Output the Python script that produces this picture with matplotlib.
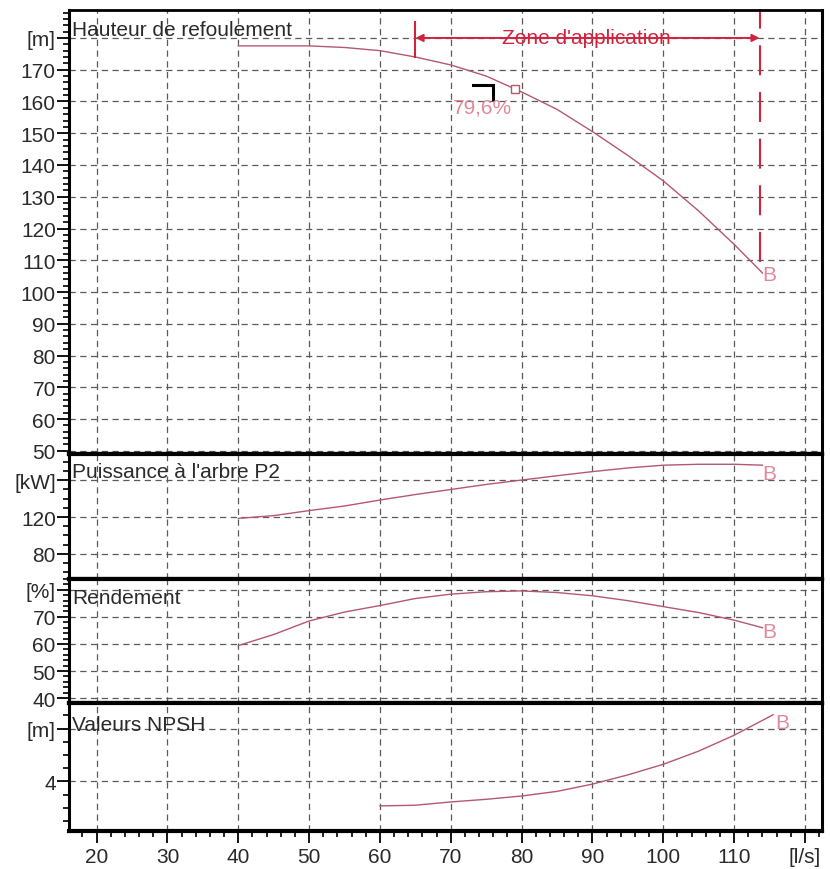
import matplotlib.pyplot as plt
from matplotlib.ticker import MultipleLocator, FixedLocator

plt.rcParams['font.family'] = ['Liberation Sans', 'DejaVu Sans']

# Débit (l/s) et courbes de la pompe
q_h = [40, 45, 50, 55, 60, 65, 70, 75, 80, 85, 90, 95, 100, 105, 110, 114]
hauteur = [177.5, 177.5, 177.5, 177, 176, 174, 171.5, 168, 163, 157.5, 150.5,
           143, 135, 125.5, 115, 106]

q_p = [40, 45, 50, 55, 60, 65, 70, 75, 80, 85, 90, 95, 100, 105, 110, 114]
puissance = [118.5, 121.5, 127, 132, 138.5, 144.5, 150, 155.5, 160.3, 165,
             169.5, 173.5, 176.5, 177.5, 177.5, 176.5]

q_r = [40, 45, 50, 55, 60, 65, 70, 75, 80, 85, 90, 95, 100, 105, 110, 114]
rendement = [59.4, 63.5, 68.5, 71.8, 74.2, 76.8, 78.4, 79.3, 79.6, 79.0,
             77.8, 76.0, 73.8, 71.6, 68.8, 66.0]

q_n = [60, 65, 70, 75, 80, 85, 90, 95, 100, 105, 110, 115.5]
npsh = [2.15, 2.2, 2.45, 2.65, 2.9, 3.25, 3.8, 4.5, 5.3, 6.3, 7.5, 9.05]

# point de meilleur rendement
bep_q = 79
bep_h = 164
bep_eta = 79.6
repere_q = [73.2, 76.0, 76.0]
repere_h = [165.2, 165.2, 160.8]

# zone d'application
zone_q = [65, 113.6]
zone_h = 180
zone_gauche_h = [184.9, 174]
zone_droite_h = [189, 106]

x_ticks = list(range(20, 121, 10))
x_labels = [str(v) for v in x_ticks[:-1]] + ['[l/s]']

courbe = '#b4586e'
rouge = '#d0243e'
rose = '#e0899a'
texte = '#2a2a2a'
FS = 15

fig = plt.figure(figsize=(8.3, 8.7), dpi=100)
W, H = 830.0, 870.0
left, right = 69, 822


def panneau(top, bottom):
    return fig.add_axes([left / W, (H - bottom) / H, (right - left) / W, (bottom - top) / H])


ax1 = panneau(11, 455)
ax2 = panneau(455, 580)
ax3 = panneau(580, 704)
ax4 = panneau(704, 832)
axes = [ax1, ax2, ax3, ax4]

reglages = [
    (ax1, (49, 188.8), list(range(50, 181, 10)), '[m]', 2),
    (ax2, (52.4, 188.7), [80, 120, 160], '[kW]', 10),
    (ax3, (38.2, 84), [40, 50, 60, 70, 80], '[%]', 2),
    (ax4, (0.25, 9.94), [4, 8], '[m]', 1),
]

for ax, ylim, yt, unite, mineur in reglages:
    ax.set_xlim(16.1, 122.4)
    ax.set_ylim(*ylim)
    ax.yaxis.set_major_locator(FixedLocator(yt))
    ax.set_yticklabels([str(v) for v in yt[:-1]] + [unite])
    ax.yaxis.set_minor_locator(MultipleLocator(mineur))
    ax.set_xticks(x_ticks)
    ax.grid(True, which='major', color='#5a5a5a', linestyle=(0, (5, 3.6)), linewidth=0.9)
    ax.tick_params(axis='y', which='major', direction='out', length=8.5, width=1.3,
                   labelsize=FS, labelcolor=texte, pad=1)
    ax.tick_params(axis='y', which='minor', direction='out', length=4.5, width=1.2)
    for s in ax.spines.values():
        s.set_linewidth(2.2)
    ax.spines['top'].set_linewidth(3)
    ax.spines['bottom'].set_linewidth(3)

for ax in axes[:-1]:
    ax.tick_params(axis='x', which='both', length=0, labelbottom=False)

ax4.set_xticklabels(x_labels)
ax4.xaxis.set_minor_locator(MultipleLocator(2))
ax4.tick_params(axis='x', which='major', direction='out', length=8.5, width=1.3,
                labelsize=FS, labelcolor=texte, pad=3)
ax4.tick_params(axis='x', which='minor', direction='out', length=4.5, width=1.2)
ax1.spines['top'].set_linewidth(2)

# Hauteur de refoulement
ax1.plot(q_h, hauteur, color=courbe, lw=1)
ax1.plot(bep_q, bep_h, marker='s', ms=6, mfc='white', mec=courbe, mew=1, zorder=5)
ax1.plot(repere_q, repere_h, color='black', lw=2.2, solid_joinstyle='miter')
ax1.text(74.5, 158.4, f'{bep_eta:.1f}%'.replace('.', ','), color=rose, fontsize=FS,
         ha='center', va='center')
ax1.text(q_h[-1], hauteur[-1] - 0.5, 'B', color=rose, fontsize=FS, ha='left', va='center')

ax1.plot([zone_q[0]] * 2, zone_gauche_h, color=rouge, lw=1.5)
ax1.plot([zone_q[1]] * 2, zone_droite_h, color=rouge, lw=1.5,
         linestyle=(5, (14.4, 8)), clip_on=False)
ax1.annotate('', xy=(zone_q[0], zone_h), xytext=(zone_q[1], zone_h),
             arrowprops=dict(arrowstyle='<|-|>', color=rouge, lw=1.4,
                             mutation_scale=11, shrinkA=0, shrinkB=0))
ax1.text(sum(zone_q) / 2 - 0.2, zone_h, "Zone d'application", color=rouge,
         fontsize=FS, ha='center', va='center')

# Puissance, rendement, NPSH
ax2.plot(q_p, puissance, color=courbe, lw=1)
ax2.text(q_p[-1], puissance[-1] + 1, 'B', color=rose, fontsize=FS, ha='left', va='top')
ax3.plot(q_r, rendement, color=courbe, lw=1)
ax3.text(q_r[-1], rendement[-1] - 1.5, 'B', color=rose, fontsize=FS, ha='left', va='center')
ax4.plot(q_n, npsh, color=courbe, lw=1)
ax4.text(q_n[-1] + 0.3, npsh[-1] + 0.1, 'B', color=rose, fontsize=FS, ha='left', va='top')

titres = [(ax1, 0.957, 'Hauteur de refoulement'),
          (ax2, 0.856, "Puissance à l'arbre P2"),
          (ax3, 0.85, 'Rendement'),
          (ax4, 0.83, 'Valeurs NPSH')]
for ax, y, t in titres:
    ax.text(0.004, y, t, transform=ax.transAxes, fontsize=FS, color=texte,
            ha='left', va='center')

fig.savefig('out.png', dpi=100, facecolor='white')
